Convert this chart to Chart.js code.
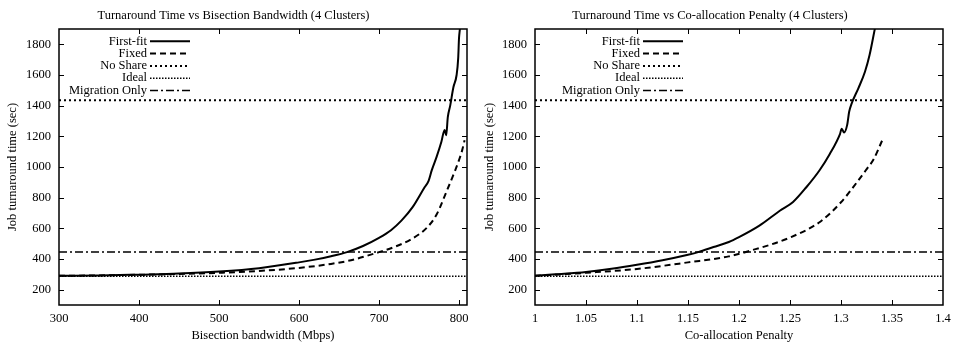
<!DOCTYPE html>
<html>
<head>
<meta charset="utf-8">
<script src="https://cdn.jsdelivr.net/npm/chart.js@4/dist/chart.umd.min.js"></script>
<style>
  body { margin: 0; background: #fff; }
  .wrap { position: absolute; top: 0; height: 344px; }
</style>
</head>
<body>
<div class="wrap" style="left:0;width:477px"><canvas id="bwChart" width="477" height="344"></canvas></div>
<div class="wrap" style="left:477px;width:476px"><canvas id="penChart" width="476" height="344"></canvas></div>
<script>
// series names
var seriesNames = ["First-fit", "Fixed", "No Share", "Ideal", "Migration Only"];

// constant reference levels (sec)
var noShareLevel = 1435;
var idealLevel = 288;
var migrationLevel = 445;

// left: bisection bandwidth (Mbps)
var bwRange = [300, 810];
var bwTicks = [300, 400, 500, 600, 700, 800];
var bwFirstFitX = [300, 350, 400, 450, 500, 550, 600, 620, 640, 660, 680, 700, 715, 728, 742, 757, 762, 766, 772, 778, 782, 784, 786, 789, 793, 797, 799, 800, 801, 802];
var bwFirstFitY = [290, 292, 298, 305, 318, 340, 378, 396, 418, 445, 485, 538, 588, 650, 738, 868, 910, 980, 1066, 1165, 1242, 1207, 1325, 1400, 1520, 1600, 1710, 1840, 1895, 1960];
var bwFixedX = [300, 350, 400, 450, 500, 550, 600, 640, 665, 700, 720, 740, 760, 772, 784, 795, 800, 804, 807];
var bwFixedY = [290, 293, 297, 302, 310, 322, 342, 368, 392, 445, 480, 528, 605, 690, 835, 975, 1045, 1110, 1175];

// right: co-allocation penalty
var penRange = [1, 1.4];
var penTicks = [1, 1.05, 1.1, 1.15, 1.2, 1.25, 1.3, 1.35, 1.4];
var penFirstFitX = [1, 1.02, 1.05, 1.075, 1.1, 1.125, 1.15, 1.16, 1.175, 1.19, 1.2, 1.22, 1.24, 1.253, 1.266, 1.279, 1.289, 1.299, 1.3007, 1.303, 1.306, 1.308, 1.3105, 1.317, 1.3235, 1.328, 1.3333, 1.335];
var penFirstFitY = [290, 300, 316, 336, 362, 392, 428, 445, 478, 511, 543, 618, 715, 772, 868, 979, 1085, 1215, 1250, 1225, 1273, 1360, 1415, 1513, 1621, 1730, 1905, 1960];
var penFixedX = [1, 1.05, 1.1, 1.15, 1.19, 1.21, 1.25, 1.28, 1.3, 1.315, 1.325, 1.332, 1.3405];
var penFixedY = [290, 310, 335, 378, 417, 452, 540, 645, 770, 895, 985, 1050, 1175];

// y axis (sec)
var timeRange = [100, 1900];
var timeTicks = [200, 400, 600, 800, 1000, 1200, 1400, 1600, 1800];

var FONT = "'Liberation Serif', 'Times New Roman', serif";
var FSIZE = 12.5;

function pts(xs, ys) {
  return xs.map(function (x, i) { return { x: x, y: ys[i] }; });
}

var styles = [
  { borderWidth: 2, borderDash: [] },
  { borderWidth: 2, borderDash: [6, 4] },
  { borderWidth: 2, borderDash: [2, 3] },
  { borderWidth: 1.5, borderDash: [1.5, 1.5] },
  { borderWidth: 1.5, borderDash: [8, 3, 2, 3] }
];

// frame with inward ticks on all sides plus the gnuplot-like key
var framePlugin = {
  id: "frame",
  afterDatasetsDraw: function (chart, args, opts) {
    var ctx = chart.ctx, a = chart.chartArea;
    var sx = chart.scales.x, sy = chart.scales.y;
    ctx.save();
    ctx.strokeStyle = "#000";
    ctx.lineWidth = 1;
    ctx.setLineDash([]);
    ctx.beginPath();
    sx.ticks.forEach(function (t) {
      var px = Math.round(sx.getPixelForValue(t.value)) + 0.5;
      if (px < a.left + 2 || px > a.right - 2) return;
      ctx.moveTo(px, a.bottom); ctx.lineTo(px, a.bottom - 5);
      ctx.moveTo(px, a.top); ctx.lineTo(px, a.top + 5);
    });
    sy.ticks.forEach(function (t) {
      var py = Math.round(sy.getPixelForValue(t.value)) + 0.5;
      ctx.moveTo(a.left, py); ctx.lineTo(a.left + 5, py);
      ctx.moveTo(a.right, py); ctx.lineTo(a.right - 5, py);
    });
    ctx.stroke();
    ctx.lineWidth = 1.5;
    ctx.strokeRect(a.left, a.top, a.right - a.left, a.bottom - a.top);

    // key
    ctx.font = FSIZE + "px " + FONT;
    ctx.fillStyle = "#000";
    ctx.textAlign = "right";
    ctx.textBaseline = "middle";
    chart.data.datasets.forEach(function (ds, i) {
      var y = opts.y + i * 12.3;
      ctx.fillText(ds.label, opts.x, y);
      ctx.lineWidth = ds.borderWidth;
      ctx.setLineDash(ds.borderDash);
      ctx.beginPath();
      ctx.moveTo(opts.x + 3, y);
      ctx.lineTo(opts.x + 43, y);
      ctx.stroke();
    });
    ctx.restore();
  }
};

function makeChart(id, cfg) {
  var values = [
    pts(cfg.ffX, cfg.ffY),
    pts(cfg.fxX, cfg.fxY),
    pts(cfg.range, [noShareLevel, noShareLevel]),
    pts(cfg.range, [idealLevel, idealLevel]),
    pts(cfg.range, [migrationLevel, migrationLevel])
  ];
  var datasets = seriesNames.map(function (name, i) {
    return {
      label: name,
      data: values[i],
      borderColor: "#000",
      backgroundColor: "#000",
      borderWidth: styles[i].borderWidth,
      borderDash: styles[i].borderDash,
      pointRadius: 0,
      cubicInterpolationMode: i < 2 ? "monotone" : "default",
      tension: 0,
      fill: false,
      order: i < 2 ? 0 : 1
    };
  });

  return new Chart(document.getElementById(id).getContext("2d"), {
    type: "line",
    data: { datasets: datasets },
    plugins: [framePlugin],
    options: {
      responsive: false,
      animation: false,
      devicePixelRatio: 1,
      layout: { padding: { left: 0, right: 10, top: 0, bottom: 0 } },
      plugins: {
        legend: { display: false },
        tooltip: { enabled: false },
        title: {
          display: true,
          text: cfg.title,
          color: "#000",
          font: { family: FONT, size: FSIZE, weight: "normal" },
          padding: { top: 8, bottom: 6 }
        },
        frame: { x: cfg.keyX, y: 41.3 }
      },
      scales: {
        x: {
          type: "linear",
          min: cfg.range[0],
          max: cfg.range[1],
          afterBuildTicks: function (s) { s.ticks = cfg.ticks.map(function (v) { return { value: v }; }); },
          afterFit: function (s) { s.height = 39; s.paddingLeft = 0; s.paddingRight = 0; },
          grid: { display: false, drawTicks: false, tickLength: 0 },
          border: { display: false },
          ticks: {
            color: "#000",
            padding: 6,
            maxRotation: 0,
            autoSkip: false,
            font: { family: FONT, size: FSIZE },
            callback: function (v) { return String(v); }
          },
          title: {
            display: true,
            text: cfg.xTitle,
            color: "#000",
            font: { family: FONT, size: FSIZE },
            padding: { top: 0, bottom: 1 }
          }
        },
        y: {
          min: timeRange[0],
          max: timeRange[1],
          afterBuildTicks: function (s) { s.ticks = timeTicks.map(function (v) { return { value: v }; }); },
          afterFit: function (s) { s.width = cfg.yWidth; s.paddingTop = 0; s.paddingBottom = 0; },
          grid: { display: false, drawTicks: false, tickLength: 0 },
          border: { display: false },
          ticks: {
            color: "#000",
            padding: 8,
            autoSkip: false,
            font: { family: FONT, size: FSIZE },
            callback: function (v) { return String(v); }
          },
          title: {
            display: true,
            text: "Job turnaround time (sec)",
            color: "#000",
            font: { family: FONT, size: FSIZE },
            padding: { top: 5, bottom: 0 }
          }
        }
      }
    }
  });
}

makeChart("bwChart", {
  title: "Turnaround Time vs Bisection Bandwidth (4 Clusters)",
  xTitle: "Bisection bandwidth (Mbps)",
  range: bwRange,
  ticks: bwTicks,
  ffX: bwFirstFitX, ffY: bwFirstFitY,
  fxX: bwFixedX, fxY: bwFixedY,
  yWidth: 59,
  keyX: 147
});

makeChart("penChart", {
  title: "Turnaround Time vs Co-allocation Penalty (4 Clusters)",
  xTitle: "Co-allocation Penalty",
  range: penRange,
  ticks: penTicks,
  ffX: penFirstFitX, ffY: penFirstFitY,
  fxX: penFixedX, fxY: penFixedY,
  yWidth: 58,
  keyX: 163
});
</script>
</body>
</html>
